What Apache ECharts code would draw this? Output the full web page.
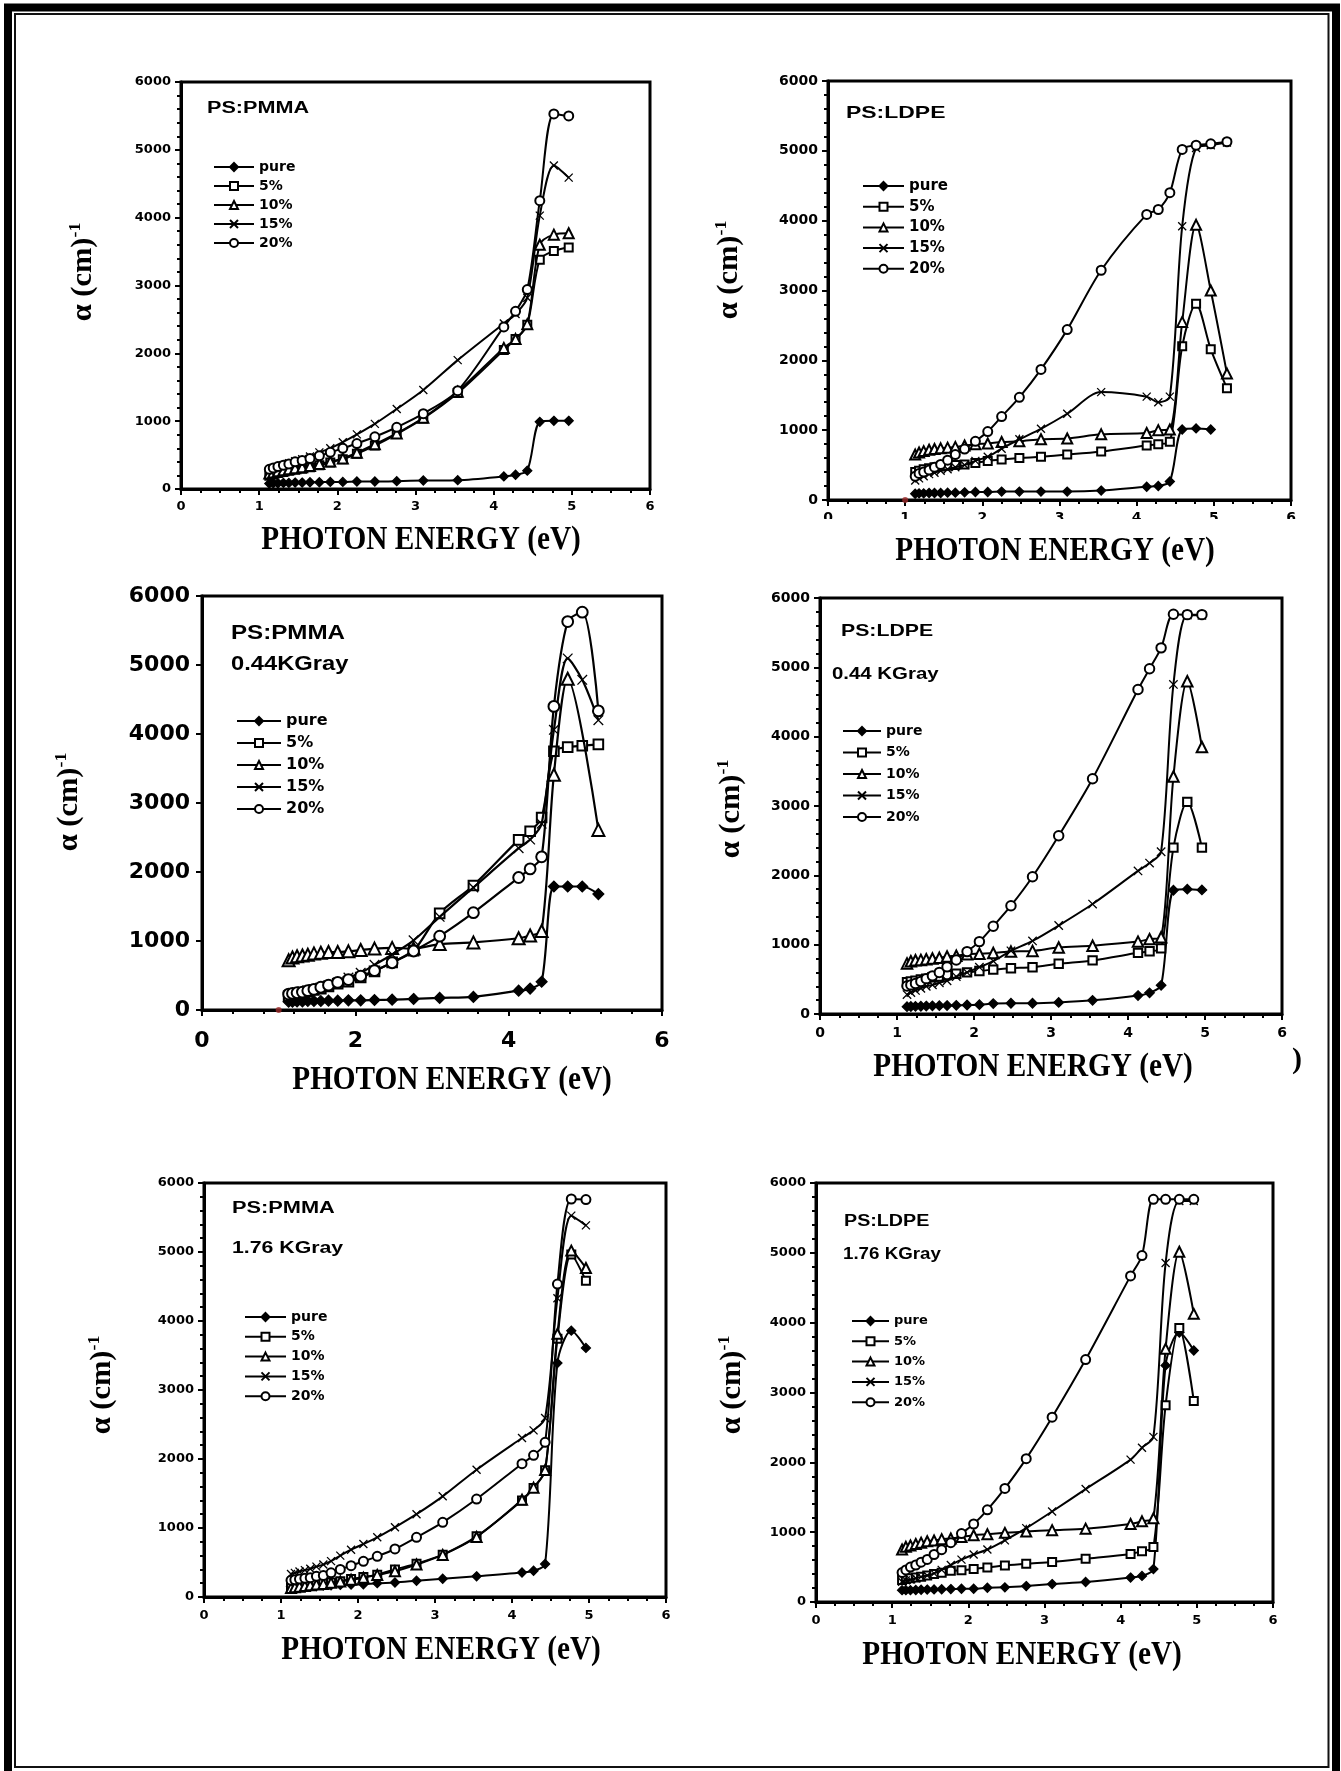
<!DOCTYPE html>
<html>
<head>
<meta charset="utf-8">
<script src="https://cdn.jsdelivr.net/npm/echarts@6/dist/echarts.min.js"></script>
<style>html,body{margin:0;padding:0;background:#fff}#c{width:1341px;height:1771px}</style>
</head>
<body>
<div id="c"></div>
<script>
// ---------- DATA ----------
const energy_eV = [1.13, 1.18, 1.24, 1.31, 1.38, 1.46, 1.55, 1.65, 1.77, 1.91, 2.07, 2.25, 2.48, 2.76, 3.10, 3.54, 4.13, 4.28, 4.43, 4.59, 4.77, 4.96, 5.17];
const legendNames = ['pure', '5%', '10%', '15%', '20%'];
const xTicksWide = [0, 1, 2, 3, 4, 5, 6];
const xTicksCoarse = [0, 2, 4, 6];
const yTicks = [0, 1000, 2000, 3000, 4000, 5000, 6000];
const xAxisTitle = 'PHOTON ENERGY (eV)';

// PS:PMMA, unirradiated
const pmma0_pure = [80, 85, 85, 90, 90, 95, 95, 100, 100, 105, 105, 110, 110, 115, 125, 130, 185, 210, 270, 990, 1005, 1005];
const pmma0_5 = [195, 215, 235, 250, 270, 285, 300, 320, 350, 390, 440, 520, 640, 810, 1040, 1415, 2050, 2210, 2420, 3380, 3510, 3560];
const pmma0_10 = [230, 245, 260, 275, 290, 305, 320, 340, 370, 405, 450, 535, 660, 820, 1050, 1435, 2080, 2210, 2430, 3600, 3750, 3770];
const pmma0_15 = [270, 300, 320, 350, 380, 410, 440, 480, 540, 600, 690, 805, 960, 1180, 1460, 1900, 2440, 2580, 2820, 4030, 4770, 4590];
const pmma0_20 = [290, 310, 330, 350, 370, 400, 420, 450, 490, 540, 600, 670, 770, 910, 1110, 1450, 2390, 2620, 2940, 4250, 5530, 5500];

// PS:LDPE, unirradiated
const ldpe0_pure = [90, 95, 95, 100, 100, 100, 105, 105, 110, 115, 115, 120, 120, 120, 120, 135, 190, 200, 265, 1010, 1025, 1010];
const ldpe0_5 = [400, 420, 440, 455, 470, 480, 490, 500, 510, 530, 560, 580, 600, 620, 650, 695, 780, 800, 835, 2200, 2810, 2160, 1600];
const ldpe0_10 = [650, 680, 700, 720, 730, 740, 750, 760, 780, 800, 810, 830, 840, 870, 880, 940, 960, 1000, 1010, 2550, 3940, 3000, 1810];
const ldpe0_15 = [280, 310, 340, 370, 390, 420, 440, 470, 500, 560, 620, 735, 870, 1020, 1235, 1545, 1480, 1400, 1480, 3920, 5040, 5080, 5120];
const ldpe0_20 = [340, 380, 400, 430, 470, 510, 570, 650, 730, 840, 980, 1195, 1470, 1870, 2440, 3290, 4090, 4160, 4400, 5020, 5080, 5100, 5130];

// PS:PMMA, 0.44 KGray  (null = no point measured at that energy)
const pmma044_pure = [120, 120, 125, 125, 130, 130, 130, 135, 135, 140, 140, 145, 150, 160, 175, 190, 280, 310, 410, 1790, 1790, 1790, 1680];
const pmma044_5 = [200, 220, 230, 250, 270, 290, 310, 340, 380, 410, 470, 560, 690, 860, 1400, 1805, 2465, 2590, 2790, 3750, 3810, 3830, 3850];
const pmma044_10 = [720, 760, 780, 790, 800, 820, 830, 840, 840, 850, 870, 890, 900, 890, 955, 980, 1040, 1080, 1145, 3410, 4800, null, 2610];
const pmma044_15 = [220, 240, 250, 270, 280, 300, 320, 360, 400, 470, 540, 655, 805, 1010, 1350, 1775, 2345, 2470, 2700, 4060, 5095, 4785, 4200];
const pmma044_20 = [230, 240, 250, 260, 280, 300, 330, 360, 400, 440, 490, 570, 685, 855, 1070, 1410, 1920, 2045, 2220, 4400, 5630, 5765, 4335];

// PS:LDPE, 0.44 KGray
const ldpe044_pure = [105, 108, 110, 112, 115, 118, 120, 122, 125, 130, 135, 150, 155, 155, 167, 197, 266, 305, 414, 1785, 1800, 1790];
const ldpe044_5 = [460, 470, 480, 500, 510, 530, 540, 560, 580, 600, 620, 640, 660, 675, 724, 773, 882, 906, 946, 2400, 3060, 2400];
const ldpe044_10 = [730, 760, 775, 780, 790, 800, 810, 830, 840, 860, 870, 880, 900, 910, 960, 985, 1044, 1080, 1108, 3425, 4800, 3850];
const ldpe044_15 = [280, 310, 340, 370, 400, 420, 450, 480, 540, 600, 675, 764, 911, 1054, 1276, 1586, 2064, 2177, 2340, 4754, 5755, 5750];
const ldpe044_20 = [404, 420, 440, 470, 510, 550, 600, 680, 780, 900, 1044, 1266, 1562, 1980, 2571, 3394, 4680, 4980, 5281, 5765, 5760, 5760];

// PS:PMMA, 1.76 KGray
const pmma176_pure = [150, 150, 155, 155, 160, 160, 165, 170, 175, 180, 185, 200, 210, 235, 265, 300, 355, 380, 478, 3390, 3860, 3610];
const pmma176_5 = [140, 150, 160, 170, 180, 190, 200, 210, 230, 260, 290, 324, 400, 483, 614, 879, 1400, 1580, 1836, 3744, 4965, 4585];
const pmma176_10 = [130, 140, 150, 160, 170, 180, 190, 205, 225, 250, 280, 320, 372, 470, 610, 870, 1410, 1585, 1840, 3816, 5020, 4768];
const pmma176_15 = [333, 350, 370, 390, 410, 440, 470, 520, 600, 686, 768, 865, 1010, 1200, 1459, 1845, 2304, 2415, 2594, 4330, 5527, 5386];
const pmma176_20 = [242, 250, 260, 270, 280, 300, 310, 350, 400, 454, 517, 589, 696, 865, 1082, 1420, 1932, 2053, 2242, 4536, 5768, 5760];

// PS:LDPE, 1.76 KGray
const ldpe176_pure = [170, 170, 170, 172, 175, 178, 180, 182, 185, 190, 190, 204, 210, 228, 257, 286, 350, 374, 471, 3388, 3859, 3602];
const ldpe176_5 = [316, 330, 340, 350, 360, 380, 400, 420, 447, 455, 471, 495, 524, 549, 573, 621, 689, 728, 786, 2816, 3922, 2879];
const ldpe176_10 = [752, 790, 810, 830, 850, 870, 880, 900, 910, 930, 956, 970, 990, 1010, 1029, 1050, 1117, 1155, 1200, 3626, 5015, 4126];
const ldpe176_15 = [291, 310, 320, 340, 360, 380, 410, 460, 530, 607, 680, 752, 883, 1058, 1296, 1617, 2039, 2209, 2364, 4854, 5743, 5743];
const ldpe176_20 = [422, 460, 500, 530, 570, 610, 680, 750, 850, 980, 1117, 1320, 1626, 2053, 2646, 3471, 4670, 4961, 5767, 5767, 5767, 5767];

const panelLabels = [['PS:PMMA'], ['PS:LDPE'], ['PS:PMMA', '0.44KGray'], ['PS:LDPE', '0.44 KGray'], ['PS:PMMA', '1.76 KGray'], ['PS:LDPE', '1.76 KGray']];
const strayPoint = [[1, 0]];

// ---------- LAYOUT / STYLE ----------
const panels = [
  {ds: [pmma0_pure, pmma0_5, pmma0_10, pmma0_15, pmma0_20], grid: [181, 82, 469, 407], xt: xTicksWide, xMinor: 4, yMinor: 5, tf: 13, xm: 11, ym: 10,
   leg: [213, 167, 19, 40, 14], ms: 1, lw: 2, xtitle: [421, 540], ytitle: [84, 272], ann: [[207, 109, 16, 1.35]], dot: false},
  {ds: [ldpe0_pure, ldpe0_5, ldpe0_10, ldpe0_15, ldpe0_20], grid: [828, 81, 463, 419], xt: xTicksWide, xMinor: 4, yMinor: 5, tf: 14, xm: 11, ym: 10,
   leg: [862, 186, 20.7, 41, 15], ms: 1, lw: 2, xtitle: [1055, 551], ytitle: [730, 270], ann: [[846, 113, 17, 1.35]], dot: true},
  {ds: [pmma044_pure, pmma044_5, pmma044_10, pmma044_15, pmma044_20], grid: [202, 596, 460, 414], xt: xTicksCoarse, xMinor: 5, yMinor: 0, tf: 22, xm: 20, ym: 12,
   leg: [236, 721, 22, 44, 16], ms: 1.2, lw: 2.2, xtitle: [452, 1080], ytitle: [70, 802], ann: [[231, 633, 21, 1.15], [231, 664, 21, 1.13]], dot: true},
  {ds: [ldpe044_pure, ldpe044_5, ldpe044_10, ldpe044_15, ldpe044_20], grid: [820, 598, 462, 416], xt: xTicksWide, xMinor: 4, yMinor: 5, tf: 14, xm: 12, ym: 10,
   leg: [842, 731, 21.5, 38, 14], ms: 1.05, lw: 2, xtitle: [1033, 1067], ytitle: [732, 809], ann: [[841, 631, 17, 1.25], [832, 674, 17, 1.2]], dot: false},
  {ds: [pmma176_pure, pmma176_5, pmma176_10, pmma176_15, pmma176_20], grid: [204, 1183, 462, 414], xt: xTicksWide, xMinor: 4, yMinor: 5, tf: 13, xm: 12, ym: 10,
   leg: [244, 1317, 19.8, 41, 14], ms: 1, lw: 2, xtitle: [441, 1650], ytitle: [103, 1385], ann: [[232, 1209, 16, 1.36], [232, 1249, 16, 1.33]], dot: false},
  {ds: [ldpe176_pure, ldpe176_5, ldpe176_10, ldpe176_15, ldpe176_20], grid: [816, 1183, 457, 419], xt: xTicksWide, xMinor: 4, yMinor: 5, tf: 13, xm: 12, ym: 10,
   leg: [851, 1321, 20.3, 37, 13], ms: 1, lw: 2, xtitle: [1022, 1655], ytitle: [733, 1385], ann: [[844, 1222, 16, 1.23], [843, 1255, 16, 1.17]], dot: false}
];

const crossPath = 'path://M0,0L10,10M10,0L0,10';
const symbols = [
  {symbol: 'diamond', size: 9, fill: '#000'},
  {symbol: 'emptyRect', size: 8, fill: '#000'},
  {symbol: 'emptyTriangle', size: 10, fill: '#000'},
  {symbol: crossPath, size: 8, fill: 'rgba(0,0,0,0)'},
  {symbol: 'emptyCircle', size: 9, fill: '#000'}
];

const tickFont = 'DejaVu Sans';
const option = {
  animation: false,
  backgroundColor: '#fff',
  grid: [], xAxis: [], yAxis: [], series: [], legend: [], graphic: []
};

panels.forEach((p, i) => {
  option.grid.push({left: p.grid[0], top: p.grid[1], width: p.grid[2], height: p.grid[3], show: true,
    borderColor: '#000', borderWidth: 3, backgroundColor: 'rgba(0,0,0,0)'});
  option.xAxis.push({
    gridIndex: i, type: 'value', min: p.xt[0], max: p.xt[p.xt.length - 1], interval: p.xt[1] - p.xt[0],
    axisLine: {show: true, onZero: false, lineStyle: {color: '#000', width: 3}},
    axisTick: {show: true, length: 6, lineStyle: {color: '#000', width: 2}},
    minorTick: {show: true, splitNumber: p.xMinor, length: 4, lineStyle: {color: '#000', width: 2}},
    splitLine: {show: false}, minorSplitLine: {show: false},
    axisLabel: {margin: p.xm, color: '#000', fontFamily: tickFont, fontWeight: 'bold', fontSize: p.tf, formatter: v => String(v)}
  });
  option.yAxis.push({
    gridIndex: i, type: 'value', min: yTicks[0], max: yTicks[yTicks.length - 1], interval: yTicks[1] - yTicks[0],
    axisLine: {show: true, onZero: false, lineStyle: {color: '#000', width: 3}},
    axisTick: {show: true, length: 6, lineStyle: {color: '#000', width: 2}},
    minorTick: {show: p.yMinor > 0, splitNumber: p.yMinor || 5, length: 4, lineStyle: {color: '#000', width: 2}},
    splitLine: {show: false}, minorSplitLine: {show: false},
    axisLabel: {margin: p.ym, color: '#000', fontFamily: tickFont, fontWeight: 'bold', fontSize: p.tf, formatter: v => String(v)}
  });
  legendNames.forEach((nm, k) => {
    const vals = p.ds[k];
    const data = [];
    vals.forEach((v, j) => { if (v !== null) data.push([energy_eV[j], v]); });
    const s = symbols[k];
    option.series.push({
      type: 'line', name: nm, xAxisIndex: i, yAxisIndex: i, data: data,
      smooth: 0.3, showAllSymbol: true, symbol: s.symbol, symbolSize: s.size * p.ms,
      lineStyle: {color: '#000', width: p.lw},
      itemStyle: {color: s.fill, borderColor: '#000', borderWidth: 1.3},
      z: 2 + k
    });
  });
  if (p.dot) {
    option.series.push({type: 'scatter', name: '', xAxisIndex: i, yAxisIndex: i, data: strayPoint,
      symbolSize: 6, itemStyle: {color: '#9a2a2a'}, clip: false, z: 10});
  }
  const lh = p.leg[4];
  option.legend.push({
    orient: 'vertical', left: p.leg[0], top: p.leg[1] - lh / 2, padding: 0,
    itemWidth: p.leg[3], itemHeight: 10, itemGap: p.leg[2] - lh,
    data: legendNames, selectedMode: false,
    textStyle: {fontFamily: tickFont, fontWeight: 'bold', fontSize: p.leg[4], color: '#000', lineHeight: lh}
  });
  // axis titles
  option.graphic.push({
    type: 'text', x: p.xtitle[0], y: p.xtitle[1], scaleX: 0.86, z: 50,
    style: {text: xAxisTitle, x: 0, y: 0, font: 'bold 34px "Liberation Serif"', fill: '#000',
      align: 'center', verticalAlign: 'middle', textAlign: 'center', textVerticalAlign: 'middle'}
  });
  option.graphic.push({
    type: 'text', x: p.ytitle[0], y: p.ytitle[1], rotation: Math.PI / 2, scaleX: 1.05, z: 50,
    style: {text: '{a|α (cm)}{s|-1}', x: 0, y: 0, fill: '#000',
      align: 'center', verticalAlign: 'middle', textAlign: 'center', textVerticalAlign: 'middle',
      rich: {
        a: {font: 'bold 29px "Liberation Serif"', fontSize: 29, fontWeight: 'bold', fontFamily: 'Liberation Serif', lineHeight: 34, fill: '#000'},
        s: {font: 'bold 17px "Liberation Serif"', fontSize: 17, fontWeight: 'bold', fontFamily: 'Liberation Serif', lineHeight: 17, verticalAlign: 'top', fill: '#000'}
      }}
  });
  p.ann.forEach((a, j) => {
    option.graphic.push({
      type: 'text', x: a[0], y: a[1], scaleX: a[3], z: 50,
      style: {text: panelLabels[i][j], x: 0, y: 0, font: 'bold ' + a[2] + 'px "Liberation Sans"', fill: '#000',
        align: 'left', verticalAlign: 'middle', textAlign: 'left', textVerticalAlign: 'middle'}
    });
  });
});

// page frame and small artefacts
option.graphic.push(
  {type: 'rect', z: 100, shape: {x: 8, y: 7.5, width: 1328, height: 1790}, style: {fill: 'none', stroke: '#000', lineWidth: 8}},
  {type: 'rect', z: 100, shape: {x: 15, y: 14, width: 1313.5, height: 1753}, style: {fill: 'none', stroke: '#111', lineWidth: 2}},
  {type: 'rect', z: 90, shape: {x: 815, y: 519, width: 490, height: 10}, style: {fill: '#fff'}},
  {type: 'text', z: 50, x: 1297, y: 1060, style: {text: ')', x: 0, y: 0, font: 'bold 30px "Liberation Serif"', fill: '#000',
    align: 'center', verticalAlign: 'middle', textAlign: 'center', textVerticalAlign: 'middle'}}
);

const chart = echarts.init(document.getElementById('c'), null, {renderer: 'canvas', width: 1341, height: 1771});
chart.setOption(option);
</script>
</body>
</html>
